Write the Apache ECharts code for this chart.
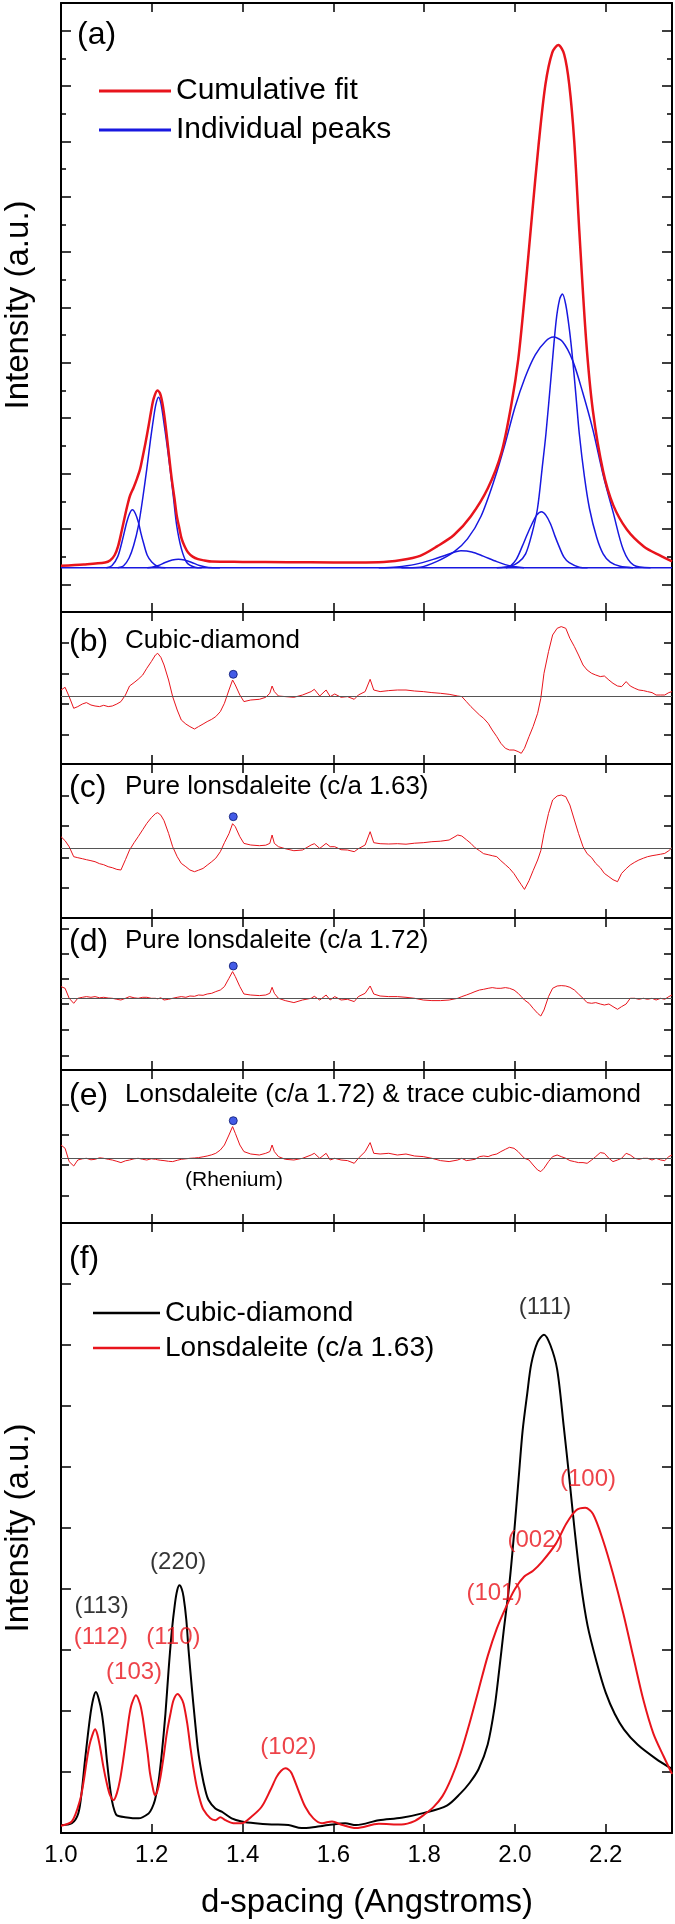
<!DOCTYPE html>
<html><head><meta charset="utf-8">
<script src="https://cdn.jsdelivr.net/npm/echarts@6/dist/echarts.min.js"></script>
<style>html,body{margin:0;padding:0;background:#fff}#c{width:675px;height:1924px}</style>
</head><body><div id="c"></div>
<script>
// ---------------- DATA ----------------
const xTickValues = [1.2, 1.4, 1.6, 1.8, 2.0, 2.2];
const xTickLabels = [1.0, 1.2, 1.4, 1.6, 1.8, 2.0, 2.2];

// Panel (a): cumulative fit and individual peaks (d-spacing, intensity a.u.)
const cumulativeFit = [[1.0,0.67],[1.05,0.72],[1.097,0.79],[1.108,0.86],[1.118,1.05],[1.126,1.39],[1.134,1.95],[1.141,2.48],[1.147,2.9],[1.152,3.2],[1.16,3.5],[1.167,3.8],[1.174,4.15],[1.179,4.53],[1.186,5.1],[1.193,5.73],[1.199,6.3],[1.204,6.7],[1.2124,7.0],[1.218,6.9],[1.223,6.58],[1.228,6.05],[1.233,5.37],[1.239,4.5],[1.244,3.8],[1.25,3.1],[1.255,2.48],[1.261,2.0],[1.266,1.63],[1.273,1.35],[1.28,1.15],[1.29,1.0],[1.302,0.91],[1.316,0.86],[1.332,0.82],[1.4,0.81],[1.5,0.8],[1.6,0.79],[1.7,0.8],[1.75,0.88],[1.791,1.03],[1.8284,1.37],[1.8656,1.78],[1.9029,2.46],[1.9403,3.47],[1.9703,4.76],[1.9925,6.53],[2.0075,8.15],[2.0225,10.6],[2.0375,13.31],[2.0522,15.89],[2.0672,18.06],[2.0822,19.21],[2.0956,19.48],[2.1084,19.15],[2.1196,18.06],[2.1306,16.02],[2.1418,12.77],[2.1568,8.83],[2.1718,6.26],[2.1943,4.08],[2.2165,2.86],[2.2465,1.98],[2.2837,1.37],[2.3212,1.03],[2.346,0.83]];
const peakBaseline = [[1.0,0.6],[2.346,0.6]];
const peak1 = [[1.10,0.6],[1.112,0.67],[1.125,1.0],[1.134,1.51],[1.1448,2.24],[1.151,2.55],[1.1573,2.69],[1.164,2.55],[1.1705,2.24],[1.176,1.85],[1.1815,1.51],[1.19,1.05],[1.1999,0.81],[1.2146,0.63],[1.23,0.6]];
const peak2 = [[1.125,0.6],[1.1375,0.66],[1.15,0.95],[1.16,1.4],[1.1705,2.11],[1.18,3.1],[1.189,4.17],[1.197,5.2],[1.2036,5.97],[1.209,6.5],[1.2146,6.76],[1.22,6.55],[1.2256,5.97],[1.233,5.1],[1.2403,4.17],[1.248,3.1],[1.255,2.11],[1.265,1.3],[1.277,0.79],[1.295,0.62],[1.31,0.6]];
const peak3 = [[1.19,0.6],[1.2,0.62],[1.215,0.68],[1.2293,0.79],[1.245,0.88],[1.2586,0.91],[1.272,0.88],[1.288,0.79],[1.305,0.68],[1.3247,0.61],[1.35,0.6]];
const peak4 = [[1.70,0.6],[1.74,0.63],[1.78,0.72],[1.82,0.9],[1.85,1.07],[1.881,1.21],[1.905,1.17],[1.93,1.02],[1.96,0.82],[1.99,0.66],[2.02,0.6]];
const peak5 = [[1.98,0.6],[1.99,0.66],[2.003,0.9],[2.016,1.37],[2.027,1.8],[2.0374,2.18],[2.048,2.5],[2.0584,2.62],[2.068,2.5],[2.0785,2.18],[2.088,1.75],[2.0972,1.37],[2.108,0.98],[2.1196,0.78],[2.1418,0.62],[2.16,0.6]];
const peak6 = [[1.75,0.6],[1.791,0.62],[1.8284,0.83],[1.8656,1.17],[1.8955,1.64],[1.9253,2.46],[1.9552,3.81],[1.9776,5.03],[1.9999,6.39],[2.0225,7.48],[2.0448,8.29],[2.0672,8.77],[2.0844,8.93],[2.1046,8.77],[2.127,8.09],[2.1493,6.93],[2.1718,5.58],[2.1943,3.95],[2.2165,2.59],[2.239,1.24],[2.2614,0.69],[2.2987,0.6]];
const peak7 = [[1.96,0.6],[1.9898,0.65],[2.008,0.8],[2.0235,1.1],[2.037,1.8],[2.0496,2.73],[2.06,4.2],[2.0683,5.44],[2.0795,7.48],[2.0907,9.51],[2.0985,10.3],[2.1046,10.49],[2.112,10.1],[2.12,9.2],[2.127,8.15],[2.1345,6.8],[2.1418,5.44],[2.153,3.9],[2.1643,2.73],[2.18,1.7],[2.1943,1.1],[2.21,0.8],[2.2316,0.65],[2.26,0.6]];

// Panels (b)-(e): residuals, shared d-spacing sampling
const residualD = [1.000,1.009,1.018,1.028,1.037,1.047,1.056,1.066,1.075,1.085,1.094,1.104,1.113,1.123,1.132,1.142,1.151,1.161,1.170,1.180,1.189,1.199,1.208,1.213,1.220,1.227,1.237,1.246,1.256,1.265,1.275,1.284,1.294,1.303,1.313,1.322,1.332,1.341,1.351,1.360,1.370,1.378,1.384,1.394,1.403,1.418,1.437,1.451,1.460,1.465,1.470,1.479,1.494,1.513,1.532,1.551,1.558,1.570,1.584,1.593,1.603,1.617,1.631,1.646,1.655,1.670,1.681,1.689,1.703,1.722,1.741,1.760,1.779,1.798,1.817,1.836,1.855,1.874,1.883,1.893,1.903,1.912,1.922,1.931,1.941,1.950,1.960,1.969,1.979,1.988,1.998,2.007,2.014,2.021,2.031,2.040,2.050,2.057,2.064,2.074,2.083,2.093,2.102,2.112,2.121,2.131,2.140,2.150,2.159,2.169,2.178,2.188,2.197,2.207,2.216,2.226,2.235,2.245,2.254,2.264,2.273,2.283,2.292,2.302,2.311,2.321,2.330,2.339,2.346];
const residualB = [6.3,9,-0.3,-12,-10.3,-7.7,-6.3,-8.7,-9.7,-10.3,-9,-10.3,-9.7,-7.7,-5.3,1.3,10.3,13.7,17,21.3,28,34.7,41.3,43,39,31.3,16.3,-0.3,-13.7,-23.7,-27.7,-30.3,-32.7,-30.3,-27.7,-25.3,-23,-20.3,-15.3,-7,6.3,16.3,11.3,1.3,-5.3,-3.7,-3,-1,3,10.3,4.7,0.3,-0.3,-1,1.3,4.7,7,0.3,6.3,-0.3,2.3,-1,-0.3,-3,1.3,4.7,17,6.3,4.7,5.7,6.3,6.3,5.3,4.7,3.7,3,2,0.3,-0.3,-5.3,-10.3,-14.3,-18.7,-22,-27,-33.7,-40.3,-47,-52,-53.7,-53.7,-55.3,-57,-52,-40.3,-30.3,-17,-2,23,44.7,61.3,68,69.7,68,58,49.7,41.3,31.3,26.3,23,21.3,19.7,20.3,16.3,13,10.3,9.7,14.7,10.3,8,6.3,5.7,4.7,3.7,1.3,1.3,1.3,3.7,4.7];
const residualC = [12,8,2,-8,-9,-10,-11,-12,-13,-15,-16,-18,-19,-20.7,-21.3,-11,-1.3,6,12,19,25.3,31,35,36,33.5,28,15.3,2,-8,-14.7,-18,-21.3,-23,-21.5,-19.7,-16.5,-13,-9.5,-3,6,15,25,22,12,5.3,3.7,3,3.5,5.3,13.7,5.3,2,0,-2,-1.3,3.7,5,0.3,5.3,2,2,-1,-1.3,-3,0,3.7,17,6,5,4.7,5,4.5,5.5,6,7,7.5,8.7,13.7,12.7,9,5.3,1,-2,-5,-6,-7,-8,-12,-16,-19.7,-25,-31.3,-36,-40.7,-32,-22,-11.3,-2,15.3,35.3,48.7,52.7,53.7,52,43.7,28.7,15.3,2,-5,-9,-14.7,-19,-24.7,-28,-31,-33,-24.7,-20,-16.3,-13.5,-11.3,-9.5,-8,-7,-6.3,-5.5,-4.7,-2,1];
const residualDd = [11.7,10,0,-5,0,1,1.7,1,1.7,0.5,1,0.3,0,-1,-1.7,0,1.7,0.5,0,1,1,0,0,-0.5,0.5,-1.7,-1,0,1,1.7,1,2.3,2,3.3,3,4.3,5,6.7,8.3,11.7,20,26.7,21.7,11.7,4.3,3.3,2.7,3.3,5,11,5,0,-2.3,-4.3,-1.7,0,2,-1.7,3.3,-1.7,1.7,-1.7,-1,-3.3,1.7,5,12.3,4.3,2.3,1.7,1.7,1,0,-1.7,-2.3,-2.3,-1.7,0,1.7,3.3,5,6.7,8.3,9,10,10.7,10,10,10.7,10,8.3,5,1.7,-1.7,-5,-10,-15,-17.7,-11.7,1.7,10,12.3,12.7,12.3,11,8.3,4.3,0,-4.3,-5,-4.3,-5.7,-6.7,-5.7,-8.3,-11,-8.3,-5.7,0,0,-1,0,-1,0,-1.7,0,-1,1.7,3.3];
const residualE = [13.3,10,-3.3,-7.7,-1.7,-0.5,0,-1.5,-1,0.5,0,-1,-1.7,-3,-4.3,-2.5,-1.7,-0.5,0,-1,-1.7,-0.5,-1,-1.5,-2,-2.3,-3,-3.3,-2,-1,-0.5,0,0.3,0.7,1.5,2.3,3.5,5,8.3,13.3,23.3,31.7,25,13.3,6.7,4.3,3.3,5,6.7,13.3,6.7,1.7,-1,-1.7,0,3.3,5,0,5,-1.7,0,-1.7,-2.3,-5,0,6.7,15.7,5,4.3,5,3.3,4.3,2.3,1.7,0,-2.3,-3.3,-1.7,0,-2.3,-1.7,-1,1.7,2.3,1.7,3.3,4.3,6.7,9,11,10,6.7,3.3,0,-1.7,-6.7,-11.7,-13.3,-10,-3.3,1.7,3.3,1.7,0,-2.3,-3.3,-4.3,-4.3,-5,-1.7,1.7,5.7,5,0,-3.3,-1.7,0,5,3.3,0,-1,0,0,-1.7,0,-1.7,-2.3,1.7,3.3];
const rheniumD = 1.3795;
const rheniumMarks = [22, 32, 32.3, 37.6];   // dot heights in panels b, c, d, e

// Residual axes ranges and tick positions
const resRanges = [[-67.7, 84.3], [-69.3, 84.7], [-71.7, 80.3], [-64.7, 88.3]];
const resTicks = [[54, 23, -7.7, -38], [52.7, 22.7, -9, -39], [70, 45, 19.3, -5.7, -31, -57.4], [53.3, 23.3, -6.7, -37.7]];

// Panel (f)
const cubicDiamond = [[1.0,0.13],[1.024,0.16],[1.038,0.32],[1.046,0.7],[1.053,1.2],[1.064,1.9],[1.071,2.2],[1.077,2.31],[1.083,2.2],[1.09,1.96],[1.096,1.6],[1.101,1.2],[1.107,0.8],[1.112,0.54],[1.118,0.36],[1.123,0.29],[1.141,0.26],[1.171,0.24],[1.193,0.32],[1.2,0.4],[1.207,0.54],[1.215,0.85],[1.222,1.3],[1.23,1.95],[1.237,2.67],[1.244,3.3],[1.251,3.76],[1.256,3.98],[1.261,4.06],[1.266,4.0],[1.27,3.87],[1.276,3.5],[1.281,3.0],[1.288,2.4],[1.295,1.85],[1.302,1.35],[1.31,0.98],[1.318,0.7],[1.325,0.54],[1.34,0.4],[1.354,0.35],[1.376,0.24],[1.398,0.19],[1.428,0.16],[1.464,0.14],[1.501,0.13],[1.53,0.08],[1.56,0.1],[1.589,0.13],[1.626,0.16],[1.65,0.13],[1.7,0.21],[1.75,0.25],[1.8,0.33],[1.85,0.45],[1.88,0.65],[1.9,0.82],[1.92,1.05],[1.94,1.45],[1.955,2.05],[1.965,2.65],[1.975,3.3],[1.988,4.1],[1.998,4.9],[2.008,5.8],[2.017,6.6],[2.027,7.2],[2.036,7.69],[2.05,8.05],[2.064,8.17],[2.078,8.0],[2.093,7.6],[2.107,6.7],[2.12,5.8],[2.131,5.0],[2.145,4.1],[2.16,3.4],[2.18,2.8],[2.2,2.3],[2.22,1.95],[2.24,1.7],[2.27,1.45],[2.31,1.22],[2.346,1.05]];
const lonsdaleite = [[1.0,0.12],[1.024,0.19],[1.042,0.54],[1.05,0.85],[1.057,1.2],[1.063,1.45],[1.068,1.58],[1.075,1.7],[1.08,1.62],[1.086,1.41],[1.093,1.1],[1.101,0.81],[1.108,0.62],[1.116,0.54],[1.123,0.65],[1.13,0.87],[1.138,1.25],[1.145,1.63],[1.151,1.95],[1.156,2.12],[1.165,2.26],[1.174,2.12],[1.18,1.9],[1.185,1.63],[1.191,1.3],[1.196,0.98],[1.202,0.75],[1.207,0.62],[1.212,0.68],[1.218,0.87],[1.226,1.25],[1.233,1.63],[1.241,1.95],[1.248,2.18],[1.257,2.28],[1.264,2.22],[1.27,2.12],[1.278,1.8],[1.285,1.41],[1.292,1.05],[1.299,0.76],[1.307,0.52],[1.314,0.38],[1.329,0.24],[1.34,0.21],[1.351,0.26],[1.362,0.21],[1.38,0.16],[1.398,0.16],[1.42,0.27],[1.442,0.43],[1.461,0.7],[1.475,0.92],[1.485,1.02],[1.494,1.06],[1.501,1.04],[1.508,0.98],[1.523,0.7],[1.538,0.43],[1.556,0.24],[1.575,0.16],[1.597,0.19],[1.62,0.13],[1.65,0.08],[1.7,0.15],[1.75,0.14],[1.78,0.2],[1.8,0.3],[1.82,0.42],[1.84,0.6],[1.86,0.9],[1.88,1.3],[1.9,1.8],[1.92,2.35],[1.94,2.9],[1.96,3.35],[1.98,3.7],[2.0,4.0],[2.02,4.2],[2.04,4.3],[2.06,4.45],[2.09,4.74],[2.113,5.07],[2.135,5.29],[2.155,5.33],[2.172,5.23],[2.194,4.8],[2.216,4.25],[2.239,3.59],[2.261,2.88],[2.283,2.18],[2.305,1.63],[2.328,1.25],[2.346,0.97]];

// Peak labels in panel (f): text, d, intensity, family
const peakLabelText = ['(111)', '(220)', '(113)', '(112)', '(110)', '(103)', '(102)', '(101)', '(002)', '(100)'];
const peakLabelD    = [2.0663, 1.258, 1.0894, 1.0876, 1.2476, 1.161, 1.5009, 1.9548, 2.0452, 2.161];
const peakLabelV    = [8.61, 4.43, 3.72, 3.2, 3.2, 2.64, 1.41, 3.93, 4.8, 5.8];
const peakLabelKind = ['cubic', 'cubic', 'cubic', 'lons', 'lons', 'lons', 'lons', 'lons', 'lons', 'lons'];

// ---------------- CHART ----------------
const FONT = '"Liberation Sans", Arial, Helvetica, sans-serif';
const RED = '#e8141c', BLUE = '#1818e0', BLACK = '#000';
const chart = echarts.init(document.getElementById('c'), null, {renderer: 'canvas', width: 675, height: 1924});

const gridBoxes = [[3, 609], [612, 152], [764, 154], [918, 152], [1070, 153], [1223, 610]];
const grid = gridBoxes.map(g => ({left: 61, width: 611, top: g[0], height: g[1]}));

const xAxis = [];
gridBoxes.forEach((g, i) => {
  ['bottom', 'top'].forEach(pos => {
    const withLabels = (i === 5 && pos === 'bottom');
    xAxis.push({
      type: 'value', gridIndex: i, position: pos, min: 1.0, max: 2.346,
      axisLine: {show: true, onZero: false, lineStyle: {color: BLACK, width: 2}},
      axisTick: {show: true, inside: true, length: 9, customValues: xTickValues, lineStyle: {color: BLACK, width: 1.5}},
      axisLabel: withLabels ? {show: true, customValues: xTickLabels, formatter: v => Number(v).toFixed(1), fontSize: 24, fontFamily: FONT, color: BLACK, margin: 10} : {show: false},
      splitLine: {show: false}, axisPointer: {show: false}
    });
  });
});

const yAxis = [];
function yAx(gi, pos, min, max, ticks, len, showLine) {
  yAxis.push({
    type: 'value', gridIndex: gi, position: pos, min: min, max: max,
    axisLine: {show: showLine, onZero: false, lineStyle: {color: BLACK, width: 2}},
    axisTick: {show: true, inside: true, length: len, customValues: ticks, lineStyle: {color: BLACK, width: 1.5}},
    axisLabel: {show: false}, splitLine: {show: false}, axisPointer: {show: false}
  });
  return yAxis.length - 1;
}
const aMajor = [0, 2, 4, 6, 8, 10, 12, 14, 16, 18, 20];
const aMinor = [1, 3, 5, 7, 9, 11, 13, 15, 17, 19];
const yA = yAx(0, 'left', -1, 21, aMajor, 10, true);
yAx(0, 'left', -1, 21, aMinor, 5, false);
yAx(0, 'right', -1, 21, aMajor, 10, true);
yAx(0, 'right', -1, 21, aMinor, 5, false);
const yRes = [];
for (let k = 0; k < 4; k++) {
  yRes.push(yAx(k + 1, 'left', resRanges[k][0], resRanges[k][1], resTicks[k], 8, true));
  yAx(k + 1, 'right', resRanges[k][0], resRanges[k][1], resTicks[k], 8, true);
}
const fTicks = [1, 2, 3, 4, 5, 6, 7, 8, 9];
const yF = yAx(5, 'left', 0, 10, fTicks, 10, true);
yAx(5, 'right', 0, 10, fTicks, 10, true);

function lineSeries(name, data, xi, yi, color, width, smooth, z) {
  const s = {type: 'line', name: name, data: data, xAxisIndex: xi, yAxisIndex: yi, showSymbol: false, symbol: 'none',
    lineStyle: {color: color, width: width, join: 'round'}, itemStyle: {color: color}, z: z, silent: true, animation: false, clip: true};
  if (smooth) { s.smooth = smooth; }
  return s;
}

const series = [];
// panel a
series.push(lineSeries('Individual peaks', peakBaseline, 0, yA, BLUE, 1.5, false, 2));
[peak1, peak2, peak3, peak4, peak5, peak6, peak7].forEach(p => series.push(lineSeries('Individual peaks', p, 0, yA, BLUE, 1.5, 0.3, 2)));
series.push(lineSeries('Cumulative fit', cumulativeFit, 0, yA, RED, 2.5, 0.3, 3));

// residual panels
const residuals = [residualB, residualC, residualDd, residualE];
residuals.forEach((vals, k) => {
  const s = lineSeries('Residual ' + 'bcde'[k], residualD.map((d, i) => [d, vals[i]]), 2 * (k + 1), yRes[k], RED, 1, false, 3);
  s.markLine = {silent: true, symbol: ['none', 'none'], label: {show: false}, animation: false,
    lineStyle: {color: '#555', width: 1, type: 'solid'}, data: [{yAxis: 0}]};
  series.push(s);
  series.push({type: 'scatter', name: 'Rhenium ' + 'bcde'[k], xAxisIndex: 2 * (k + 1), yAxisIndex: yRes[k],
    data: [[rheniumD, rheniumMarks[k]]], symbolSize: 8, animation: false, silent: true, z: 4,
    itemStyle: {color: '#1432e0', borderColor: '#0a1870', borderWidth: 1}});
});

// panel f
series.push(lineSeries('Cubic-diamond', cubicDiamond, 10, yF, BLACK, 2, 0.3, 3));
series.push(lineSeries('Lonsdaleite (c/a 1.63)', lonsdaleite, 10, yF, RED, 2, 0.3, 4));
series.push({type: 'scatter', name: 'peak labels', xAxisIndex: 10, yAxisIndex: yF, symbolSize: 1, silent: true, animation: false, z: 6,
  itemStyle: {color: 'rgba(0,0,0,0)'},
  data: peakLabelText.map((t, i) => ({name: t, value: [peakLabelD[i], peakLabelV[i]],
    label: {show: true, position: 'inside', formatter: t, fontSize: 24, fontFamily: FONT, color: peakLabelKind[i] === 'cubic' ? BLACK : RED}}))
});

const legendText = {fontFamily: FONT, color: BLACK};
const legend = [
  {data: ['Cumulative fit', 'Individual peaks'], orient: 'vertical', left: 94, top: 71, itemWidth: 72, itemHeight: 3, itemGap: 9,
    icon: 'rect', selectedMode: false, textStyle: Object.assign({fontSize: 30, lineHeight: 30}, legendText)},
  {data: ['Cubic-diamond', 'Lonsdaleite (c/a 1.63)'], orient: 'vertical', left: 88, top: 1294, itemWidth: 67, itemHeight: 2.5, itemGap: 7,
    icon: 'rect', selectedMode: false, textStyle: Object.assign({fontSize: 28, lineHeight: 28}, legendText)}
];

function txt(text, x, y, size, align, rot) {
  const e = {type: 'text', x: x, y: y, silent: true, z: 10,
    style: {text: text, fontSize: size, fontFamily: FONT, fill: BLACK, align: align || 'left', verticalAlign: 'middle',
      textAlign: align || 'left', textVerticalAlign: 'middle'}};
  if (rot) e.rotation = rot;
  return e;
}
const graphic = [
  txt('(a)', 77, 35, 32),
  txt('(b)', 69, 642, 32), txt('Cubic-diamond', 125, 641, 26),
  txt('(c)', 69, 788, 32), txt('Pure lonsdaleite (c/a 1.63)', 125, 787, 26),
  txt('(d)', 69, 942, 32), txt('Pure lonsdaleite (c/a 1.72)', 125, 941, 26),
  txt('(e)', 69, 1096, 32), txt('Lonsdaleite (c/a 1.72) & trace cubic-diamond', 125, 1095, 26),
  txt('(Rhenium)', 234, 1180, 21, 'center'),
  txt('(f)', 69, 1259, 32),
  txt('Intensity (a.u.)', 19, 305, 33, 'center', Math.PI / 2),
  txt('Intensity (a.u.)', 19, 1528, 33, 'center', Math.PI / 2),
  txt('d-spacing (Angstroms)', 367, 1903, 33, 'center')
];

chart.setOption({
  animation: false,
  backgroundColor: '#fff',
  textStyle: {fontFamily: FONT},
  grid: grid, xAxis: xAxis, yAxis: yAxis, series: series, legend: legend, graphic: graphic
});
</script></body></html>
